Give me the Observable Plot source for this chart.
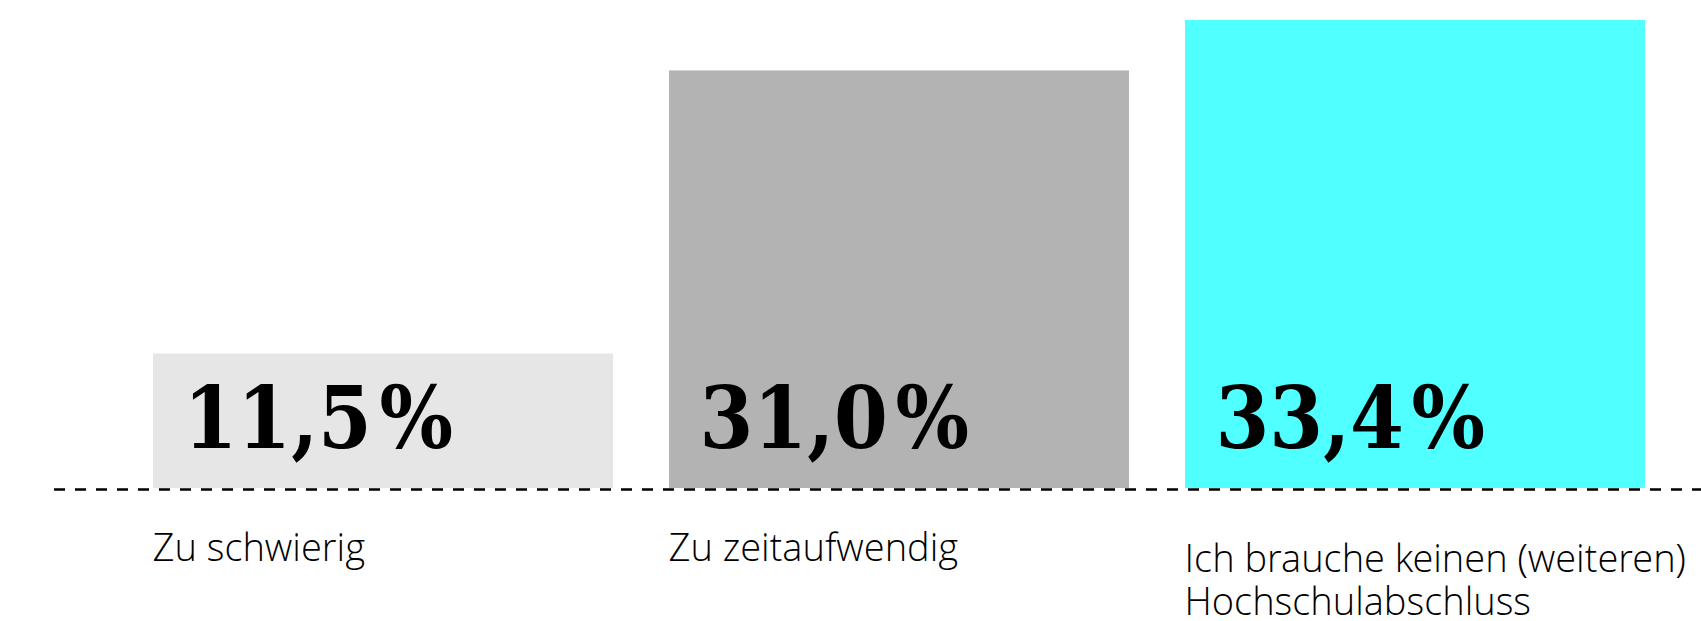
<!DOCTYPE html>
<html>
<head>
<meta charset="utf-8">
<script src="https://cdn.jsdelivr.net/npm/d3@7"></script>
<script src="https://cdn.jsdelivr.net/npm/@observablehq/plot@0.6"></script>
<style>
  html, body { margin: 0; padding: 0; background: #fff; }
  svg { display: block; }
</style>
</head>
<body>
<div id="chart"></div>
<script>
// Categories (x axis labels)
const categories = [
  "Zu schwierig",
  "Zu zeitaufwendig",
  "Ich brauche keinen (weiteren)\nHochschulabschluss"
];
// Printed values (percent)
const values = [11.5, 31.0, 33.4];
// Bar lengths as drawn in the picture (same percent units)
const barHeights = [9.6, 29.8, 33.4];
// Bar fills
const barColors = ["#e6e6e6", "#b3b3b3", "#50ffff"];

const fmt = v => v.toLocaleString("de-DE", {minimumFractionDigits: 1, maximumFractionDigits: 1}) + "\u200A%";

const data = categories.map((c, i) => ({
  category: c,
  value: values[i],
  height: barHeights[i],
  color: barColors[i],
  label: fmt(values[i]),
  multiline: c.includes("\n")
}));

const labelFont = "'Open Sans Light', 'Noto Sans Light', 'Open Sans', sans-serif";

const plot = Plot.plot({
  width: 1701,
  height: 621,
  marginLeft: 152,
  marginRight: 56,
  marginTop: 20,
  marginBottom: 133,
  x: {domain: categories, paddingInner: 0.1094, paddingOuter: 0, axis: null},
  y: {domain: [0, 33.4], axis: null},
  color: {type: "identity"},
  style: {background: "#fff", overflow: "visible"},
  marks: [
    Plot.barY(data, {x: "category", y: "height", fill: "color"}),
    Plot.ruleY([0], {
      stroke: "#000", strokeWidth: 2.6, strokeDasharray: "11,10",
      insetLeft: -98, insetRight: -56, dy: 1
    }),
    Plot.text(data, {
      x: "category", y: 0, text: "label",
      textAnchor: "start", lineAnchor: "bottom",
      dx: -200, dy: -41,
      fontFamily: "'DejaVu Serif Condensed', 'DejaVu Serif', serif",
      fontWeight: "bold", fontSize: 86, fill: "#000"
    }),
    Plot.text(data.filter(d => !d.multiline), {
      x: "category", y: 0, text: "category",
      textAnchor: "start", lineAnchor: "top",
      dx: -231, dy: 46,
      fontFamily: labelFont, fontWeight: 300, fontSize: 38,
      fill: "#000"
    }),
    Plot.text(data.filter(d => d.multiline), {
      x: "category", y: 0, text: "category",
      textAnchor: "start", lineAnchor: "top", lineHeight: 1.13,
      dx: -231, dy: 53,
      fontFamily: labelFont, fontWeight: 300, fontSize: 38,
      fill: "#000"
    })
  ]
});
document.getElementById("chart").appendChild(plot);
</script>
</body>
</html>
